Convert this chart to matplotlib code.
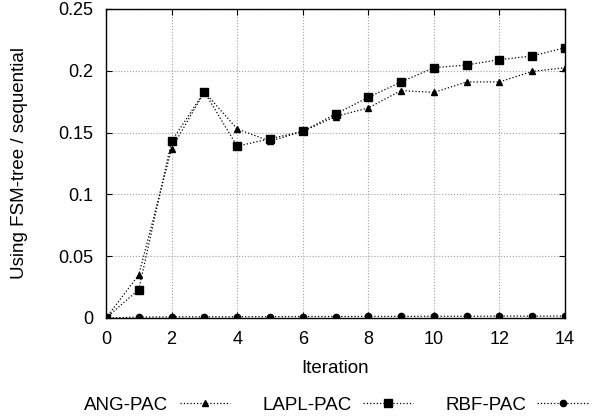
import matplotlib
matplotlib.use("Agg")
import matplotlib.pyplot as plt

plt.rcParams['font.family'] = ['Liberation Sans', 'DejaVu Sans']

iteration = list(range(15))
ang_pac = [0.0, 0.035, 0.137, 0.183, 0.153, 0.143, 0.151, 0.163, 0.170, 0.184, 0.1825, 0.191, 0.191, 0.1995, 0.2025]
lapl_pac = [0.0, 0.023, 0.143, 0.183, 0.139, 0.145, 0.151, 0.165, 0.1785, 0.191, 0.2025, 0.2047, 0.209, 0.212, 0.2187]
rbf_pac = [0.0, 0.0008, 0.0009, 0.001, 0.001, 0.0011, 0.0012, 0.0012, 0.0013, 0.0013, 0.0014, 0.0014, 0.0015, 0.0015, 0.0016]

fig = plt.figure(figsize=(5.94, 4.2), dpi=100)
ax = fig.add_axes([106/594, 1 - 318/420, (565-106)/594, (318-9)/420])

ax.plot(iteration, ang_pac, color='black', linestyle=':', linewidth=0.9,
        marker='^', markersize=4.5, label='ANG-PAC')
ax.plot(iteration, lapl_pac, color='black', linestyle=':', linewidth=0.9,
        marker='s', markersize=5.5, label='LAPL-PAC')
ax.plot(iteration, rbf_pac, color='black', linestyle=':', linewidth=0.9,
        marker='o', markersize=4.5, label='RBF-PAC')

ax.set_xlim(0, 14)
ax.set_ylim(0, 0.25)
ax.set_xticks(range(0, 15, 2))
ax.set_yticks([0, 0.05, 0.1, 0.15, 0.2, 0.25])
ax.set_yticklabels(['0', '0.05', '0.1', '0.15', '0.2', '0.25'])
ax.tick_params(direction='in', top=True, right=True, labelsize=13, length=4)
ax.tick_params(axis='x', pad=9)
ax.tick_params(axis='y', pad=9)
ax.grid(True, color='#a0a0a0', linestyle=':', linewidth=0.8)
for s in ax.spines.values():
    s.set_linewidth(1.0)

ax.set_xlabel('Iteration', fontsize=13.5, labelpad=9)
ax.set_ylabel('Using FSM-tree / sequential', fontsize=13.5, labelpad=22)

leg = fig.legend(loc='center', bbox_to_anchor=(336/594, 1 - 405/420), ncol=3, frameon=False,
                 markerfirst=False, fontsize=13.5, handlelength=2.7, columnspacing=1.7,
                 handletextpad=0.6)

fig.savefig('out.png', dpi=100)
